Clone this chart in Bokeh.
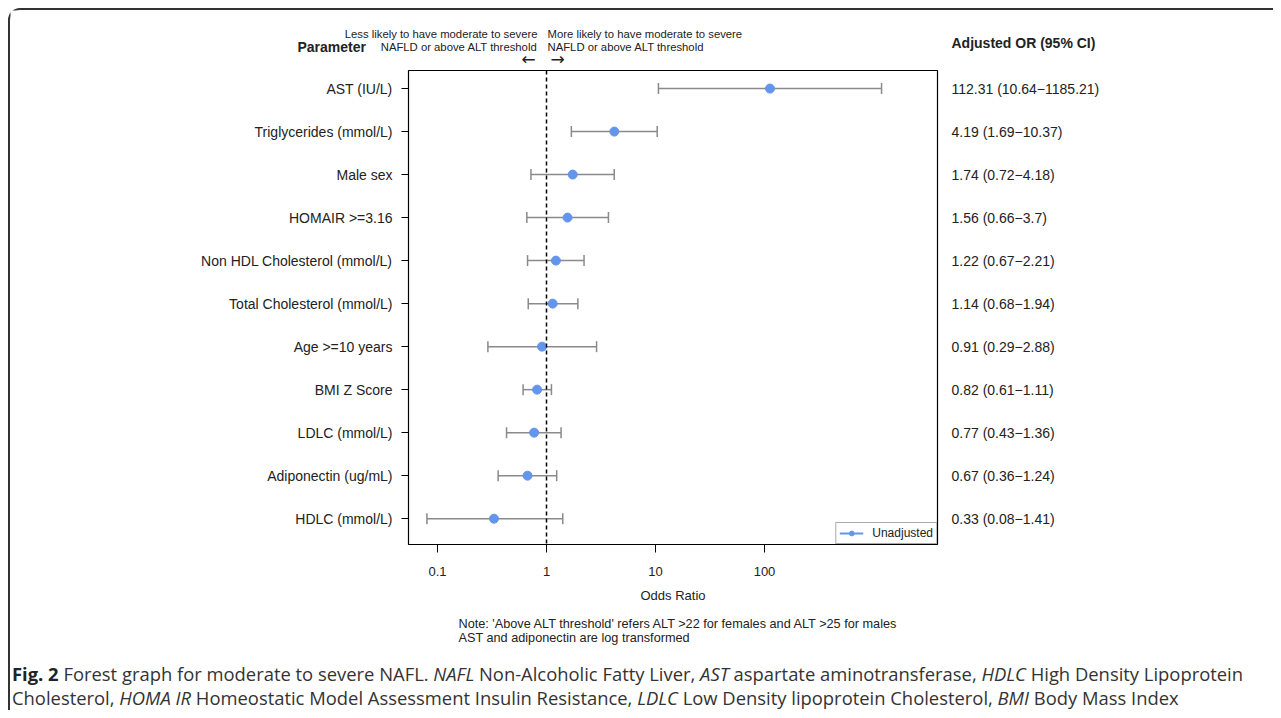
from bokeh.plotting import figure
from bokeh.models import (Range1d, FixedTicker, CustomJSTickFormatter, NumeralTickFormatter,
                          LinearAxis, Whisker, TeeHead, Span, Legend, LegendItem,
                          ColumnDataSource, Div)
from bokeh.core.properties import value
from bokeh.layouts import column
from bokeh.embed import file_html
from bokeh.resources import INLINE

# ---------------- data (top row first) ----------------
params = ["AST (IU/L)", "Triglycerides (mmol/L)", "Male sex", "HOMAIR >=3.16",
          "Non HDL Cholesterol (mmol/L)", "Total Cholesterol (mmol/L)", "Age >=10 years",
          "BMI Z Score", "LDLC (mmol/L)", "Adiponectin (ug/mL)", "HDLC (mmol/L)"]
odds = [112.31, 4.19, 1.74, 1.56, 1.22, 1.14, 0.91, 0.82, 0.77, 0.67, 0.33]
ci_low = [10.64, 1.69, 0.72, 0.66, 0.67, 0.68, 0.29, 0.61, 0.43, 0.36, 0.08]
ci_high = [1185.21, 10.37, 4.18, 3.7, 2.21, 1.94, 2.88, 1.11, 1.36, 1.24, 1.41]
x_ticks = [0.1, 1, 10, 100]

n = len(params)
rows = [n - i for i in range(n)]
ci_text = [f"{o:g} ({l:g}\u2212{h:g})" for o, l, h in zip(odds, ci_low, ci_high)]

FONT = "Liberation Sans"
TXT = "#222222"
W = 1263
X0 = 10  # page x of the left edge of the figures (inside the rounded border)


def text_canvas(height, top):
    """A frameless figure used only for free-standing texts (page pixel coordinates)."""
    f = figure(width=W, height=height, x_range=Range1d(X0, X0 + W),
               y_range=Range1d(top + height, top), x_axis_location=None, y_axis_location=None,
               output_backend="svg", toolbar_location=None, min_border=0, frame_align=False,
               outline_line_color=None, background_fill_color="white", border_fill_color="white")
    f.xgrid.visible = False
    f.ygrid.visible = False
    return f


def put(f, xs, ys, texts, size, align="left", style="normal", font=FONT):
    f.text(x=xs, y=ys, text=texts, text_font=value(font), text_font_size=value(size),
           text_font_style=style, text_align=align, text_baseline="middle", text_color=TXT)


# ---------------- header ----------------
head = text_canvas(58, 10)
put(head, [297], [46], ["Parameter"], "14px", style="bold")
put(head, [537, 537], [33, 46], ["Less likely to have moderate to severe",
                                 "NAFLD or above ALT threshold"], "11.3px", align="right")
put(head, [547, 547], [33, 46], ["More likely to have moderate to severe",
                                 "NAFLD or above ALT threshold"], "11.3px")
put(head, [528, 557], [58, 58], ["\u2190", "\u2192"], "17px", align="center", font="DejaVu Sans")
put(head, [951], [42], ["Adjusted OR (95% CI)"], "14px", style="bold")

# ---------------- main forest plot ----------------
src = ColumnDataSource(dict(y=rows, odds=odds, lo=ci_low, hi=ci_high))

p = figure(width=W, height=544, x_axis_type="log",
           x_range=Range1d(10 ** -1.266, 10 ** 3.587), y_range=Range1d(0.4, 11.42),
           output_backend="svg", toolbar_location=None, frame_align=False,
           min_border_left=398, min_border_right=336, min_border_top=2, min_border_bottom=68)
p.xgrid.visible = False
p.ygrid.visible = False
p.outline_line_color = "black"
p.outline_line_width = 1.2
p.background_fill_color = "white"
p.border_fill_color = "white"

xa = p.xaxis[0]
xa.ticker = FixedTicker(ticks=x_ticks, minor_ticks=[])
xa.formatter = NumeralTickFormatter(format="0.[0]")
xa.axis_line_color = None
xa.major_tick_in = 0
xa.major_tick_out = 8
xa.minor_tick_line_color = None
xa.major_tick_line_color = "black"
xa.major_label_standoff = 14
xa.major_label_text_font = FONT
xa.major_label_text_font_size = "13px"
xa.major_label_text_color = TXT
xa.axis_label = "Odds Ratio"
xa.axis_label_text_font = FONT
xa.axis_label_text_font_size = "13px"
xa.axis_label_text_font_style = "normal"
xa.axis_label_text_color = TXT
xa.axis_label_standoff = 9

ya = p.yaxis[0]
ya.ticker = FixedTicker(ticks=rows, minor_ticks=[])
ya.formatter = CustomJSTickFormatter(args=dict(labels=params[::-1]),
                                     code="return labels[Math.round(tick) - 1] ?? '';")
ya.axis_line_color = None
ya.major_tick_in = 0
ya.major_tick_out = 7
ya.minor_tick_line_color = None
ya.major_label_standoff = 9
ya.major_label_text_font = FONT
ya.major_label_text_font_size = "14px"
ya.major_label_text_color = TXT

ra = LinearAxis(ticker=FixedTicker(ticks=rows, minor_ticks=[]),
                formatter=CustomJSTickFormatter(args=dict(labels=ci_text[::-1]),
                                                code="return labels[Math.round(tick) - 1] ?? '';"))
ra.axis_line_color = None
ra.major_tick_line_color = None
ra.minor_tick_line_color = None
ra.major_tick_out = 0
ra.major_tick_in = 0
ra.major_label_standoff = 14
ra.major_label_text_font = FONT
ra.major_label_text_font_size = "14px"
ra.major_label_text_color = TXT
p.add_layout(ra, "right")

p.add_layout(Span(location=1, dimension="height", line_color="black",
                  line_dash="4 3", line_width=1.5))

GREY = "#8a8a8a"
p.add_layout(Whisker(source=src, base="y", lower="lo", upper="hi", dimension="width",
                     line_color=GREY, line_width=1.5,
                     upper_head=TeeHead(size=11, line_color=GREY, line_width=1.5),
                     lower_head=TeeHead(size=11, line_color=GREY, line_width=1.5)))

BLUE = "#6495ED"
leg_line = p.line(x=[float("nan")], y=[float("nan")], line_color=BLUE, line_width=2)
pts = p.scatter(x="odds", y="y", source=src, size=9, fill_color=BLUE, line_color=BLUE)

legend = Legend(items=[LegendItem(label="Unadjusted", renderers=[leg_line, pts])],
                location="bottom_right", margin=0, padding=3, spacing=0,
                glyph_width=24, glyph_height=12, label_height=12, label_standoff=9,
                label_text_font=FONT, label_text_font_size="12px", label_text_color=TXT,
                border_line_color="#555555", border_line_width=1,
                background_fill_color="white", background_fill_alpha=1)
p.add_layout(legend)

# ---------------- note ----------------
note = text_canvas(50, 612)
put(note, [458, 458], [623, 637],
    ["Note: 'Above ALT threshold' refers ALT >22 for females and ALT >25 for males",
     "AST and adiponectin are log transformed"], "12.7px")

# ---------------- caption ----------------
caption = Div(
    text=("<b style='color:#222'>Fig. 2</b> Forest graph for moderate to severe NAFL. <i>NAFL</i> "
          "Non-Alcoholic Fatty Liver, <i>AST</i> aspartate aminotransferase, <i>HDLC</i> High Density "
          "Lipoprotein<br>Cholesterol, <i>HOMA IR</i> Homeostatic Model Assessment Insulin Resistance, "
          "<i>LDLC</i> Low Density lipoprotein Cholesterol, <i>BMI</i> Body Mass Index"),
    width=W, height=48, margin=(0, 0, 0, 0),
    styles={"font-family": "'Open Sans', sans-serif", "font-size": "18.4px",
            "line-height": "24px", "color": "#333333", "white-space": "nowrap",
            "padding-left": "2px", "background": "white"})

layout = column(head, p, note, caption, margin=(8, 0, 0, 8),
                styles={"border-left": "2px solid #333333", "border-top": "2px solid #333333",
                        "border-top-left-radius": "12px", "background": "white"})

open("out.html", "w").write(file_html(layout, INLINE))
